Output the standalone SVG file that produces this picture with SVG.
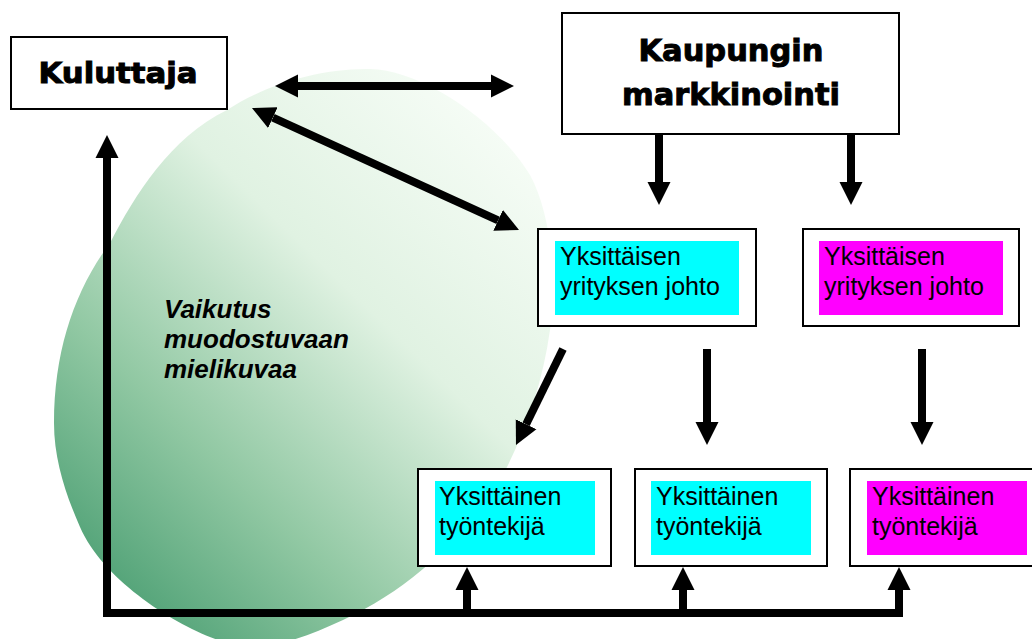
<svg xmlns="http://www.w3.org/2000/svg" width="1032" height="639" viewBox="0 0 1032 639">
  <style>
    .box { fill: #ffffff; stroke: #000000; stroke-width: 2; }
    .title { font-family: "DejaVu Sans", "Liberation Sans", sans-serif; font-weight: bold; fill: #000; stroke: #000; stroke-width: 1; text-anchor: middle; }
    .label { font-family: "Liberation Sans", Arial, sans-serif; font-size: 25px; fill: #000; }
    .note { font-family: "Liberation Sans", Arial, sans-serif; font-size: 26px; font-weight: bold; font-style: italic; fill: #000; }
    .cyan { fill: #00ffff; }
    .magenta { fill: #ff00ff; }
    .arrow { fill: none; stroke: #000; stroke-width: 8; }
  </style>
  <defs>
    <linearGradient id="imageGrad" x1="0.85" y1="0.08" x2="0.12" y2="0.95">
      <stop offset="0" stop-color="#f5fcf5"/>
      <stop offset="0.35" stop-color="#e0f2e2"/>
      <stop offset="0.7" stop-color="#91c8a3"/>
      <stop offset="1" stop-color="#4a9e72"/>
    </linearGradient>
    <marker id="head" markerUnits="userSpaceOnUse" markerWidth="24" markerHeight="24" refX="0" refY="12" orient="auto-start-reverse">
      <path d="M0,0.5 L23,12 L0,23.5 Z" fill="#000"/>
    </marker>
  </defs>

  <!-- image-forming area -->
  <path id="image-area" d="M370,69 C420,70 495,118 530,175 C552,215 557,285 550,330 C543,380 528,425 507,467 C480,520 420,585 343,620 C300,640 262,652 235,645 C190,635 105,585 80,527 C66,495 54,460 54,423 C54,350 75,290 110,243 C135,195 170,138 227,110 C260,88 315,68 370,69 Z" fill="url(#imageGrad)"/>

  <text class="note" x="164" y="318">Vaikutus</text>
  <text class="note" x="164" y="348">muodostuvaan</text>
  <text class="note" x="164" y="378">mielikuvaa</text>

  <!-- connectors -->
  <g id="connectors">
    <!-- feedback line: employees back to consumer -->
    <path class="arrow" d="M107,158 V613 H903" marker-start="url(#head)" stroke-linejoin="miter"/>
    <path class="arrow" d="M467,613 V590" marker-end="url(#head)"/>
    <path class="arrow" d="M683,613 V590" marker-end="url(#head)"/>
    <path class="arrow" d="M899,613 V590" marker-end="url(#head)"/>

    <!-- consumer <-> city marketing -->
    <path class="arrow" d="M298,86 H491" marker-start="url(#head)" marker-end="url(#head)"/>
    <!-- consumer <-> company management -->
    <path class="arrow" d="M272.9,117.6 L498.1,220.4" marker-start="url(#head)" marker-end="url(#head)"/>

    <!-- city marketing -> company management -->
    <path class="arrow" d="M659,134 V182" marker-end="url(#head)"/>
    <path class="arrow" d="M851,134 V182" marker-end="url(#head)"/>

    <!-- company management -> employees -->
    <path class="arrow" d="M563,349 L526.1,424.3" marker-end="url(#head)"/>
    <path class="arrow" d="M707,349 V422" marker-end="url(#head)"/>
    <path class="arrow" d="M922,349 V422" marker-end="url(#head)"/>
  </g>

  <g id="kuluttaja">
    <rect class="box" x="11" y="37" width="216" height="72"/>
    <text class="title" x="118" y="83" font-size="29" textLength="159" lengthAdjust="spacingAndGlyphs">Kuluttaja</text>
  </g>

  <g id="kaupungin-markkinointi">
    <rect class="box" x="562" y="13" width="337" height="121"/>
    <text class="title" x="731" y="61" font-size="31" textLength="185" lengthAdjust="spacingAndGlyphs">Kaupungin</text>
    <text class="title" x="731" y="105" font-size="31" textLength="218" lengthAdjust="spacingAndGlyphs">markkinointi</text>
  </g>

  <g id="johto-1">
    <rect class="box" x="538" y="229" width="218" height="97"/>
    <rect class="cyan" x="555" y="241" width="184" height="74"/>
    <text class="label" x="560" y="265">Yksittäisen</text>
    <text class="label" x="560" y="295">yrityksen johto</text>
  </g>

  <g id="johto-2">
    <rect class="box" x="803" y="229" width="216" height="97"/>
    <rect class="magenta" x="819" y="241" width="184" height="74"/>
    <text class="label" x="824" y="265">Yksittäisen</text>
    <text class="label" x="824" y="295">yrityksen johto</text>
  </g>

  <g id="tyontekija-1">
    <rect class="box" x="418" y="469" width="193" height="97"/>
    <rect class="cyan" x="435" y="481" width="160" height="74"/>
    <text class="label" x="439" y="505">Yksittäinen</text>
    <text class="label" x="439" y="535">työntekijä</text>
  </g>

  <g id="tyontekija-2">
    <rect class="box" x="635" y="469" width="192" height="97"/>
    <rect class="cyan" x="651" y="481" width="160" height="74"/>
    <text class="label" x="656" y="505">Yksittäinen</text>
    <text class="label" x="656" y="535">työntekijä</text>
  </g>

  <g id="tyontekija-3">
    <rect class="box" x="850" y="469" width="193" height="97"/>
    <rect class="magenta" x="867" y="481" width="160" height="74"/>
    <text class="label" x="872" y="505">Yksittäinen</text>
    <text class="label" x="872" y="535">työntekijä</text>
  </g>
</svg>
